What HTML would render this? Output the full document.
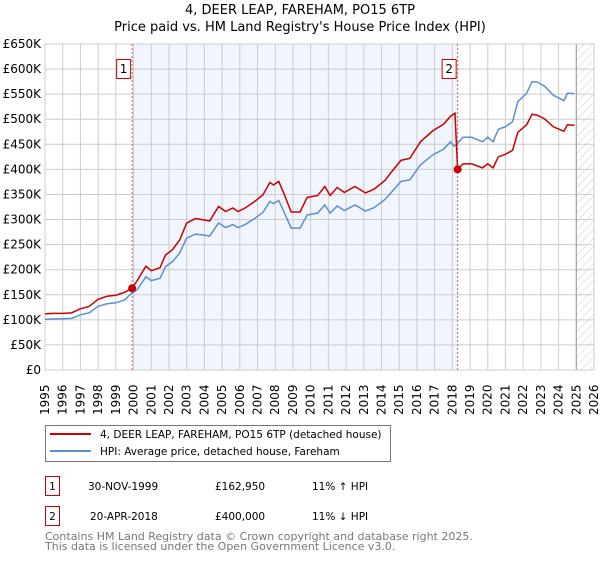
<!DOCTYPE html>
<html><head><meta charset="utf-8"><style>
body{margin:0;background:#fff;width:600px;height:560px;overflow:hidden;font-family:"Liberation Sans","DejaVu Sans",sans-serif}
svg text{font-family:"DejaVu Sans","Liberation Sans",sans-serif}
</style></head><body>
<svg id="chart" width="600" height="560">
<defs><pattern id="hatch" width="6" height="6" patternUnits="userSpaceOnUse" patternTransform="rotate(45)"><line x1="0" y1="0" x2="0" y2="6" stroke="#ccc" stroke-width="1"/></pattern></defs>
<text x="300" y="14" text-anchor="middle" font-size="13">4, DEER LEAP, FAREHAM, PO15 6TP</text>
<text x="300" y="31" text-anchor="middle" font-size="13">Price paid vs. HM Land Registry's House Price Index (HPI)</text>
<g id="plot"></g>
<g>
<rect x="45.5" y="425.5" width="345" height="36" fill="#fff" stroke="#777"/>
<line x1="50" y1="434" x2="91" y2="434" stroke="#cc0000" stroke-width="2"/>
<text x="100" y="438" font-size="10.5">4, DEER LEAP, FAREHAM, PO15 6TP (detached house)</text>
<line x1="50" y1="451" x2="91" y2="451" stroke="#5b8fd0" stroke-width="2"/>
<text x="100" y="455" font-size="10.5">HPI: Average price, detached house, Fareham</text>
</g>
<g>
<rect x="45.5" y="476.5" width="14" height="19" fill="#fff" stroke="#cc0000"/>
<text x="52.5" y="490" text-anchor="middle" font-size="10.5">1</text>
<text x="88" y="490" font-size="10.5">30-NOV-1999</text>
<text x="215" y="490" font-size="10.5">£162,950</text>
<text x="312" y="490" font-size="10.5">11% ↑ HPI</text>
</g>
<g>
<rect x="45.5" y="506.5" width="14" height="19" fill="#fff" stroke="#cc0000"/>
<text x="52.5" y="520" text-anchor="middle" font-size="10.5">2</text>
<text x="90" y="520" font-size="10.5">20-APR-2018</text>
<text x="215" y="520" font-size="10.5">£400,000</text>
<text x="312" y="520" font-size="10.5">11% ↓ HPI</text>
</g>
<text x="45" y="540" font-size="11" fill="#777">Contains HM Land Registry data © Crown copyright and database right 2025.</text>
<text x="45" y="550" font-size="11" fill="#777">This data is licensed under the Open Government Licence v3.0.</text>
</svg>
<script>
const hpiDates=[1995.0,1995.5,1996.0,1996.5,1997.0,1997.5,1998.0,1998.5,1999.0,1999.5,1999.9,2000.2,2000.7,2001.0,2001.5,2001.8,2002.2,2002.6,2003.0,2003.5,2004.0,2004.3,2004.8,2005.2,2005.6,2005.9,2006.3,2006.8,2007.3,2007.7,2007.9,2008.2,2008.5,2008.9,2009.4,2009.8,2010.4,2010.8,2011.1,2011.5,2011.9,2012.5,2013.1,2013.6,2014.2,2014.5,2015.1,2015.6,2016.2,2016.9,2017.5,2017.9,2018.1,2018.3,2018.6,2019.1,2019.7,2020.0,2020.3,2020.6,2021.0,2021.4,2021.7,2022.2,2022.5,2022.8,2023.2,2023.7,2024.3,2024.5,2024.9];
const hpiValues=[101,102,102,103,110,114,127,132,134,140,153,160,186,178,183,206,216,233,263,271,269,267,293,284,290,284,290,301,314,336,332,338,315,283,283,309,313,329,313,327,318,329,317,324,340,352,376,379,409,429,440,455,446,452,464,464,455,464,455,480,485,495,535,552,575,574,566,548,537,552,551];
const priceDates=[1995.0,1995.5,1996.0,1996.5,1997.0,1997.5,1998.0,1998.5,1999.0,1999.5,1999.92,2000.2,2000.7,2001.0,2001.5,2001.8,2002.2,2002.6,2003.0,2003.5,2004.0,2004.3,2004.8,2005.2,2005.6,2005.9,2006.3,2006.8,2007.3,2007.7,2007.9,2008.2,2008.5,2008.9,2009.4,2009.8,2010.4,2010.8,2011.1,2011.5,2011.9,2012.5,2013.1,2013.6,2014.2,2014.5,2015.1,2015.6,2016.2,2016.9,2017.5,2017.9,2018.15,2018.3,2018.6,2019.1,2019.7,2020.0,2020.3,2020.6,2021.0,2021.4,2021.7,2022.2,2022.5,2022.8,2023.2,2023.7,2024.3,2024.5,2024.9];
const priceValues=[112,113,113,114,122,127,141,147,149,155,163,178,207,198,204,229,240,259,293,302,299,297,326,316,323,316,323,335,349,374,369,376,351,315,315,344,348,366,348,364,354,366,353,361,378,392,418,422,455,477,490,506,512,400,411,411,403,411,403,425,430,438,474,489,510,508,501,485,476,489,488];
const saleDates=[1999.92,2018.3];
const saleValues=[162.95,400];
const saleLabels=["1","2"];
const yTicks=[0,50,100,150,200,250,300,350,400,450,500,550,600,650];
const yTickLabels=["£0","£50K","£100K","£150K","£200K","£250K","£300K","£350K","£400K","£450K","£500K","£550K","£600K","£650K"];
const xYears=[1995,1996,1997,1998,1999,2000,2001,2002,2003,2004,2005,2006,2007,2008,2009,2010,2011,2012,2013,2014,2015,2016,2017,2018,2019,2020,2021,2022,2023,2024,2025,2026];
const dataEnd=2025.0;

const L=45,R=594,T=44,B=370,X0=1995,X1=2026,YMAX=650;
const x=v=>L+(v-X0)/(X1-X0)*(R-L);
const y=v=>B-v/YMAX*(B-T);
const NS="http://www.w3.org/2000/svg";
const g=document.getElementById('plot');
function mk(tag,attrs,parent){const e=document.createElementNS(NS,tag);for(const k in attrs)e.setAttribute(k,attrs[k]);(parent||g).appendChild(e);return e;}

const shade=mk('rect',{x:x(saleDates[0]),y:T,width:x(saleDates[1])-x(saleDates[0]),height:B-T,fill:'#eef3fc',opacity:0.8});


const hatch=mk('rect',{x:x(dataEnd),y:T,width:R-x(dataEnd),height:B-T,fill:'url(#hatch)'});



yTicks.forEach((v,i)=>{
  const ln=mk('line',{x1:L,x2:R,y1:y(v),y2:y(v),stroke:'#ccc','stroke-width':1});
  
  
  const t=mk('text',{x:L-4,y:y(v)+4,'text-anchor':'end','font-size':12});
  t.textContent=yTickLabels[i];
  
  
});
xYears.forEach(yr=>{
  const ln=mk('line',{x1:x(yr),x2:x(yr),y1:T,y2:B,stroke:'#ccc','stroke-width':1});
  
  
  const t=mk('text',{x:0,y:0,'font-size':12,transform:`translate(${x(yr)+4},${B+45}) rotate(-90)`});
  t.textContent=yr;
  
  
});
const endLine=mk('line',{x1:x(dataEnd),x2:x(dataEnd),y1:T,y2:B,stroke:'#999','stroke-width':1});


const frame=mk('rect',{x:L,y:T,width:R-L,height:B-T,fill:'none',stroke:'#ccc'});



saleDates.forEach((d,i)=>{
  const ln=mk('line',{x1:x(d),x2:x(d),y1:T,y2:B,stroke:'#e06060','stroke-width':1,'stroke-dasharray':'2,2'});
  
  
});

const hp=mk('polyline',{points:hpiDates.map((d,i)=>x(d)+','+y(hpiValues[i])).join(' '),fill:'none',stroke:'#5b8fd0','stroke-width':1.5});


const pp=mk('polyline',{points:priceDates.map((d,i)=>x(d)+','+y(priceValues[i])).join(' '),fill:'none',stroke:'#cc0000','stroke-width':1.5});



saleDates.forEach((d,i)=>{
  const c=mk('circle',{cx:x(d),cy:y(saleValues[i]),r:4,fill:'#cc0000'});
  
  
  const bx=mk('rect',{x:x(d)-15.5,y:59.5,width:14,height:19,fill:'#fff',stroke:'#cc0000'});
  
  
  const t=mk('text',{x:x(d)-8.5,y:73,'text-anchor':'middle','font-size':12});
  t.textContent=saleLabels[i];
  
  
});
</script>
</body></html>
